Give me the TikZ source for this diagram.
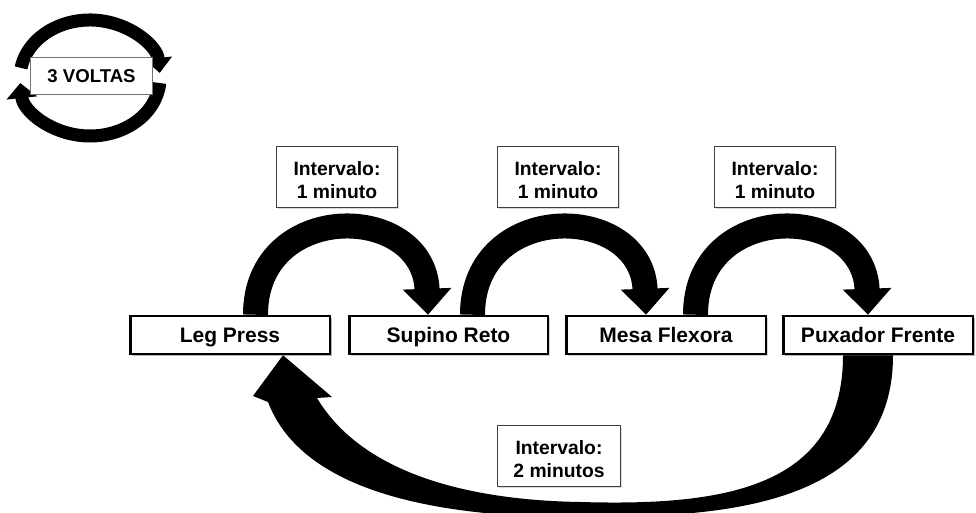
\documentclass[tikz,border=0pt]{standalone}
\usepackage{fontspec}
\setmainfont{Liberation Sans}
\usetikzlibrary{arrows.meta,shadows,calc}
\begin{document}
\begin{tikzpicture}[x=1pt,y=1pt,
  stepbox/.style={draw=black, line width=2.5pt, fill=white, minimum height=38pt,
    inner sep=0pt, font=\fontsize{21}{25}\selectfont\bfseries, text height=15pt, text depth=0pt,
    drop shadow={shadow xshift=2pt, shadow yshift=-2pt, opacity=0.35}},
  restbox/.style={draw=black!75, line width=1pt, fill=white, minimum width=121pt, minimum height=61pt,
    inner sep=0pt, align=center, font=\fontsize{19.3}{23}\selectfont\bfseries, text height=43pt, text depth=0pt,
    drop shadow={shadow xshift=1.5pt, shadow yshift=-1.5pt, opacity=0.3}},
  band/.style={line width=25pt, -{Triangle[length=26pt,width=47pt]}},
  ringband/.style={line width=13pt},
]
\useasboundingbox (0,0) rectangle (976,513);

% main exercise boxes
\node[stepbox, minimum width=199.5pt] (leg)  at (230,178)   {Leg Press};
\node[stepbox, minimum width=198.5pt] (sup)  at (448.5,178) {Supino Reto};
\node[stepbox, minimum width=199.5pt] (mesa) at (666,178)   {Mesa Flexora};
\node[stepbox, minimum width=189.5pt] (pux)  at (878,178)   {Puxador Frente};

% rest boxes
\node[restbox] (r1) at (337,336) {Intervalo:\\1 minuto};
\node[restbox] (r2) at (558,336) {Intervalo:\\1 minuto};
\node[restbox] (r3) at (775,336) {Intervalo:\\1 minuto};
\node[restbox, minimum width=123pt] (r4) at (559,57) {Intervalo:\\2 minutos};

% curved arrows between boxes
\draw[band] ([xshift=25.5pt]leg.north) .. controls +(0,115) and +(-4,113) .. ([xshift=-20.5pt]sup.north);
\draw[band] ([xshift=24pt]sup.north) .. controls +(0,115) and +(-4,113) .. ([xshift=-20pt]mesa.north);
\draw[band] ([xshift=29.5pt]mesa.north) .. controls +(0,115) and +(-4,113) .. ([xshift=-10pt]pux.north);

% big return arrow (Puxador Frente -> Leg Press)
\fill[black] ([xshift=15pt]pux.south)
  .. controls +(0,-113) and (800,1) .. (640,-3)
  .. controls (500,-9) and (310,1) .. (268,111)
  -- (253,117) -- (leg.south -| 283,0) -- (332,116) -- (317,115)
  .. controls (360,43) and (460,13) .. (580,11)
  .. controls (720,7) and (843,23) .. ([xshift=-35pt]pux.south)
  -- cycle;

% redraw boxes on top of the arrow ends
\node[stepbox, minimum width=199.5pt] at (leg)  {Leg Press};
\node[stepbox, minimum width=189.5pt] at (pux)  {Puxador Frente};

% 3 voltas ring
\coordinate (c) at (90,435);
\draw[ringband, -{Triangle[length=15pt,width=27pt]}] ([shift={(170:70pt and 58pt)}]c) arc[start angle=170, end angle=5, x radius=70pt, y radius=58pt];
\draw[ringband, -{Triangle[length=15pt,width=30pt]}] ([shift={(-5:70pt and 58pt)}]c) arc[start angle=-5, end angle=-175, x radius=70pt, y radius=58pt];
\node[draw=black!55, line width=0.8pt, fill=white, minimum width=122pt, minimum height=37pt, inner sep=0pt,
  font=\fontsize{18.6}{22}\selectfont\bfseries] (voltas) at (91.5,437) {3 VOLTAS};
\end{tikzpicture}
\end{document}
